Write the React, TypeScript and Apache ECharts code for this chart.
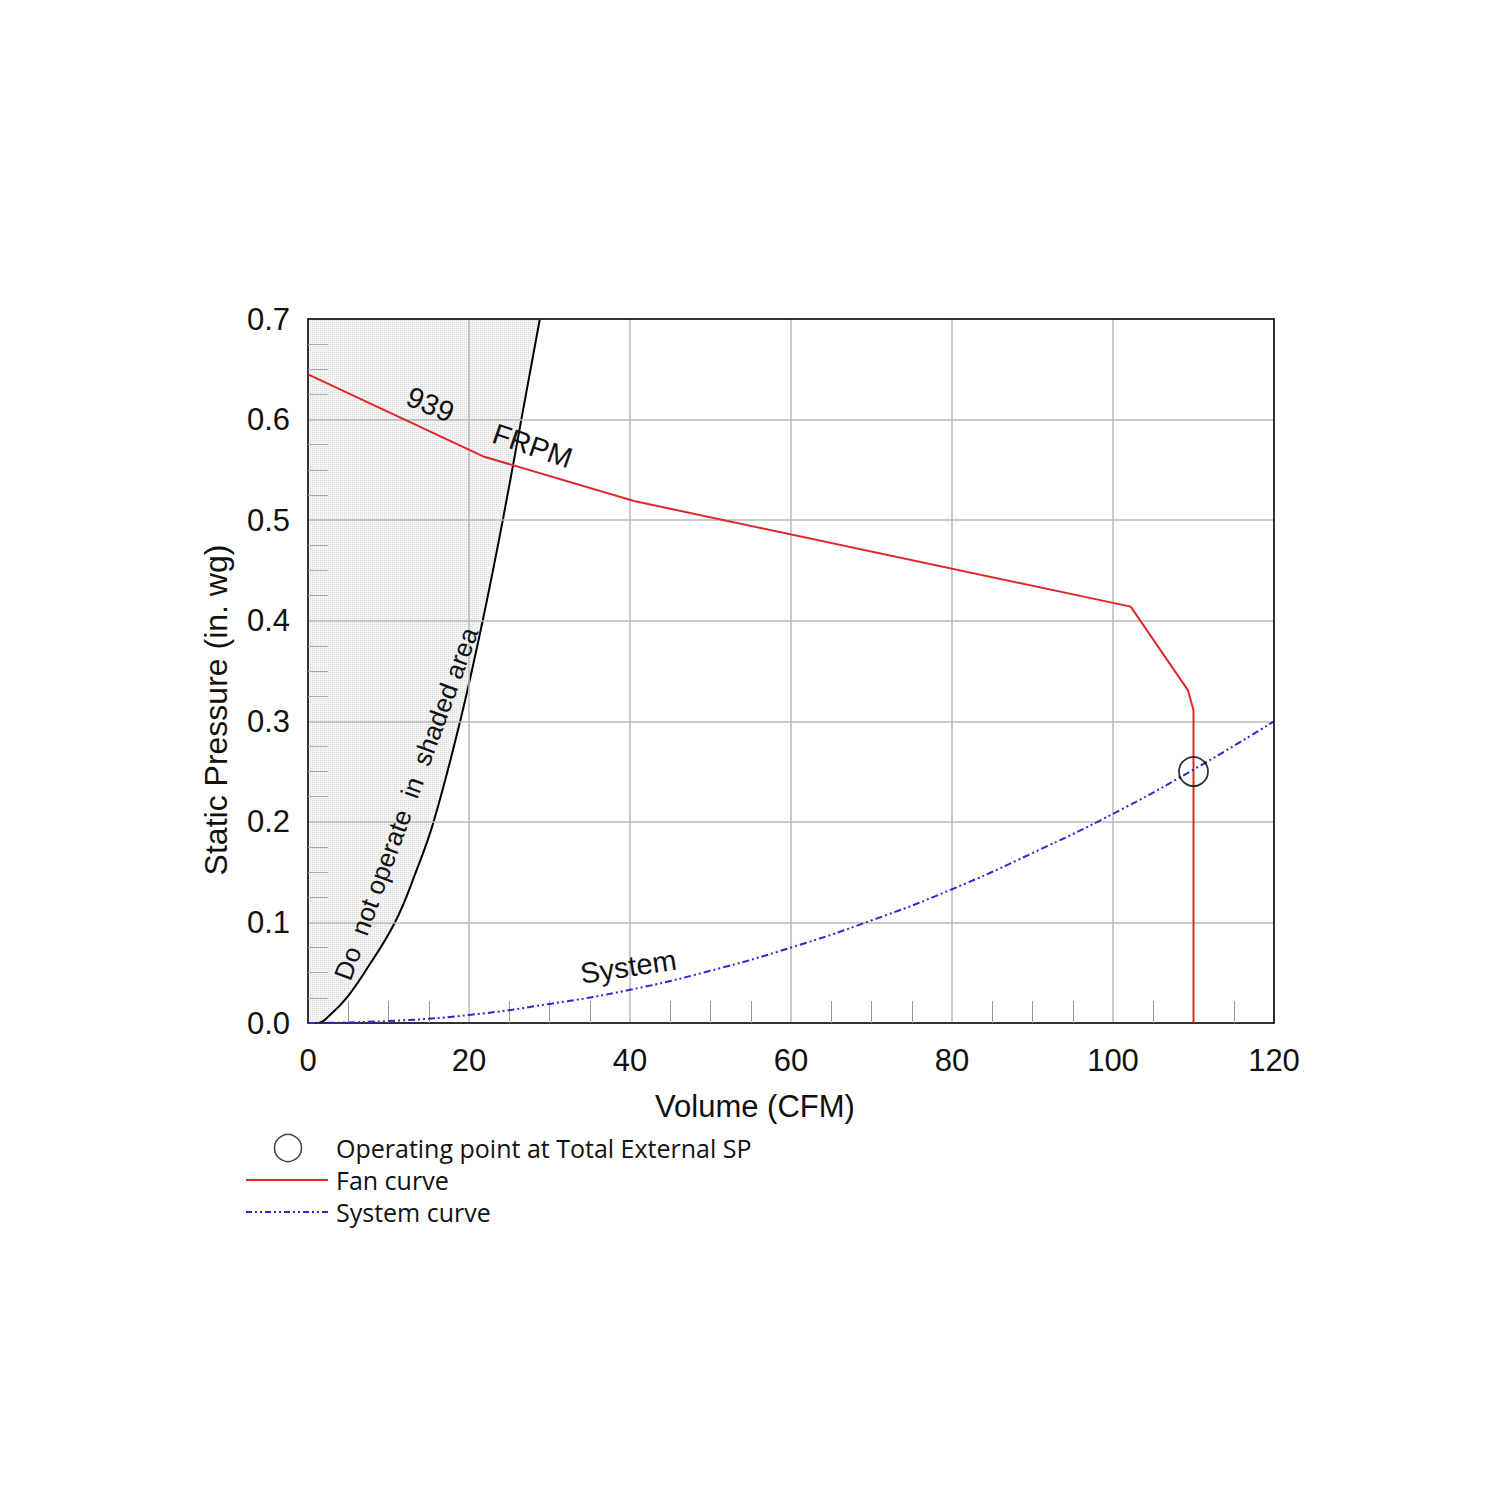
import React, { useEffect, useRef } from "react";
import * as echarts from "echarts";

// Fan curve (939 FRPM)
const fanX = [0, 21.9, 40.5, 102.2, 109.3, 110, 110];
const fanY = [0.645, 0.563, 0.519, 0.414, 0.331, 0.311, 0];
// System curve
const sysX = [0, 10, 20, 30, 40, 50, 60, 70, 80, 90, 100, 110, 120];
const sysY = [0, 0.002, 0.008, 0.019, 0.033, 0.052, 0.075, 0.102, 0.133, 0.169, 0.208, 0.252, 0.3];
// Boundary of the "do not operate" shaded region
const limitX = [0, 1.2, 3.0, 4.8, 7.0, 10.8, 13.4, 15.6, 18.9, 21.7, 24.2, 26.5, 28.8];
const limitY = [0, 0, 0.01, 0.025, 0.05, 0.1, 0.15, 0.2, 0.3, 0.4, 0.5, 0.6, 0.7];
// Operating point
const opX = [110];
const opY = [0.25];
// Axis ranges
const xRange = [0, 120, 20];
const yRange = [0, 0.7, 0.1];
// Annotations [text, x, y, rotation, fontSize]
const notes: [string, number, number, number, number][] = [
  ["939", 15.2, 0.615, -0.4, 29],
  ["FRPM", 27.9, 0.574, -0.33, 29],
  ["System", 39.8, 0.056, 0.15, 29],
  ["Do  not operate  in  shaded area", 12.2, 0.218, 1.22, 26],
];
const legendItems = ["Operating point at Total External SP", "Fan curve", "System curve"];

const zip = (a: number[], b: number[]) => a.map((v, i) => [v, b[i]]);

function makePattern() {
  const c = document.createElement("canvas");
  c.width = 4;
  c.height = 4;
  const ctx = c.getContext("2d")!;
  ctx.fillStyle = "#f5f5f5";
  ctx.fillRect(0, 0, 4, 4);
  ctx.fillStyle = "#d6d6d6";
  ctx.fillRect(0, 0, 1, 1);
  ctx.fillRect(2, 2, 1, 1);
  ctx.fillStyle = "#e2e2e2";
  ctx.fillRect(2, 0, 1, 1);
  ctx.fillRect(0, 2, 1, 1);
  return c;
}

export default function App() {
  const ref = useRef<HTMLDivElement>(null);
  useEffect(() => {
    document.body.style.margin = "0";
    const chart = echarts.init(ref.current!, null, { renderer: "svg" });
    const axisFont = "Liberation Sans, Arial, sans-serif";
    let pattern: any = "#ebebeb";
    try {
      pattern = { image: makePattern(), repeat: "repeat" };
    } catch (e) {
      pattern = "#ebebeb";
    }
    const frameAxis = {
      type: "value",
      axisLine: { show: true, onZero: false, lineStyle: { color: "#000", width: 1.5 } },
      axisTick: { show: false },
      axisLabel: { show: false },
      splitLine: { show: false },
      z: 5,
    };
    chart.setOption({
      animation: false,
      backgroundColor: "#ffffff",
      grid: {
        left: 308,
        top: 319,
        right: 226,
        bottom: 477,
        show: false,
      },
      xAxis: [
        {
          type: "value",
          min: xRange[0],
          max: xRange[1],
          interval: xRange[2],
          name: "Volume (CFM)",
          nameLocation: "middle",
          nameGap: 68,
          nameTextStyle: { fontFamily: axisFont, fontSize: 31, color: "#111", padding: [0, 72, 0, 0] },
          axisLine: { show: true, onZero: false, lineStyle: { color: "#000", width: 1.5 } },
          axisTick: { show: false, inside: true },
          minorTick: { show: true, splitNumber: 4, length: 22, lineStyle: { color: "#9a9a9a", width: 1 } },
          axisLabel: { fontFamily: axisFont, fontSize: 31, color: "#111", margin: 22 },
          splitLine: { show: true, lineStyle: { color: "#b8b8b8", width: 1.5 } },
          z: 2,
        },
        { ...frameAxis, position: "top", min: xRange[0], max: xRange[1] },
      ],
      yAxis: [
        {
          type: "value",
          min: yRange[0],
          max: yRange[1],
          interval: yRange[2],
          name: "Static Pressure (in. wg)",
          nameLocation: "middle",
          nameGap: 76,
          nameTextStyle: { fontFamily: axisFont, fontSize: 32, color: "#111", padding: [0, 78, 0, 0] },
          axisLine: { show: true, onZero: false, lineStyle: { color: "#000", width: 1.5 } },
          axisTick: { show: false, inside: true },
          minorTick: { show: true, splitNumber: 4, length: 20, lineStyle: { color: "#a8a8a8", width: 1 } },
          axisLabel: {
            fontFamily: axisFont,
            fontSize: 31,
            color: "#111",
            margin: 18,
            formatter: (v: number) => v.toFixed(1),
          },
          splitLine: { show: true, lineStyle: { color: "#b8b8b8", width: 1.5 } },
          z: 2,
        },
        { ...frameAxis, position: "right", min: yRange[0], max: yRange[1] },
      ],
      series: [
        {
          name: "limit",
          type: "line",
          data: zip(limitX, limitY),
          showSymbol: false,
          smooth: 0.4,
          lineStyle: { color: "#000", width: 2 },
          areaStyle: { origin: "end", color: pattern, opacity: 1 },
          z: 1,
        },
        {
          name: "Fan curve",
          type: "line",
          data: zip(fanX, fanY),
          showSymbol: false,
          lineStyle: { color: "#e02828", width: 2 },
          z: 3,
        },
        {
          name: "System curve",
          type: "line",
          data: zip(sysX, sysY),
          showSymbol: false,
          smooth: true,
          lineStyle: { color: "#2a2ad0", width: 2, type: [7, 3, 2, 3, 2, 3] },
          z: 3,
        },
        {
          name: "Operating point",
          type: "scatter",
          data: zip(opX, opY),
          symbol: "circle",
          symbolSize: 29,
          itemStyle: { color: "transparent", borderColor: "#000", borderWidth: 1.8 },
          z: 4,
        },
      ],
    });

    const g: any[] = notes.map(([t, x, y, rot, fs]) => {
      const p = chart.convertToPixel({ xAxisIndex: 0, yAxisIndex: 0 }, [x, y]) as number[];
      return {
        type: "text",
        x: p[0],
        y: p[1],
        rotation: rot,
        z: 10,
        style: {
          text: t,
          fontFamily: axisFont,
          fontSize: fs,
          fill: "#111",
          align: "center",
          verticalAlign: "middle",
        },
      };
    });
    const legFont = "Open Sans, Noto Sans, sans-serif";
    const rowY = [1148, 1180, 1212];
    g.push({ type: "circle", shape: { cx: 288, cy: rowY[0], r: 13.5 }, style: { fill: "#fff", stroke: "#444", lineWidth: 1.5 } });
    g.push({ type: "line", shape: { x1: 246, y1: rowY[1], x2: 328, y2: rowY[1] }, style: { stroke: "#e02828", lineWidth: 1.8 } });
    g.push({
      type: "line",
      shape: { x1: 246, y1: rowY[2], x2: 328, y2: rowY[2] },
      style: { stroke: "#2a2ad0", lineWidth: 1.8, lineDash: [6, 3, 2, 3, 2, 3] },
    });
    legendItems.forEach((t, i) => {
      g.push({
        type: "text",
        x: 336,
        y: rowY[i],
        style: { text: t, fontFamily: legFont, fontSize: 25, lineHeight: 25, fill: "#111", verticalAlign: "middle" },
      });
    });
    chart.setOption({ graphic: g });
    return () => chart.dispose();
  }, []);
  return <div ref={ref} style={{ width: 1500, height: 1500 }} />;
}
